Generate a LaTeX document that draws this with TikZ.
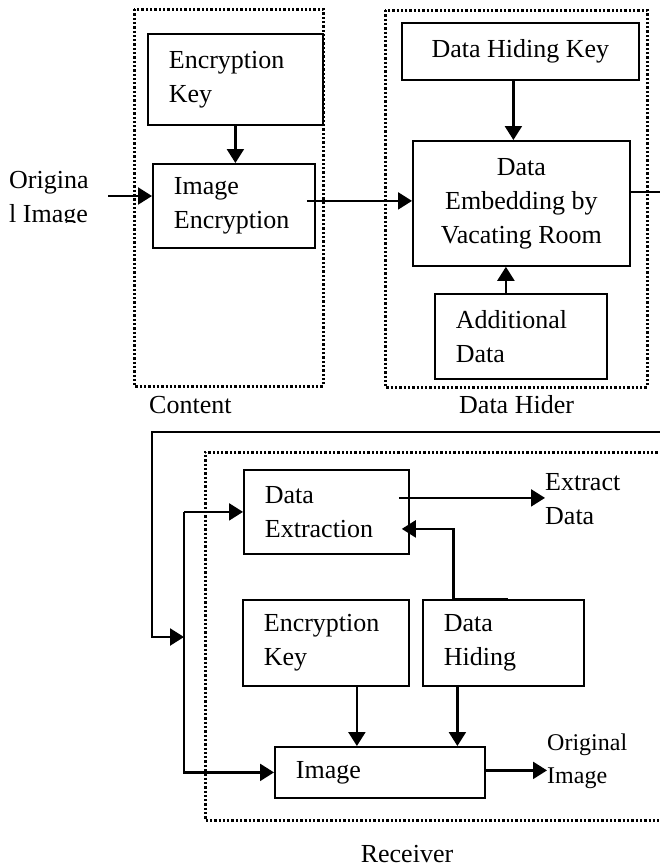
\documentclass[tikz,border=0pt]{standalone}
\usepackage{fontspec}
\setmainfont{Liberation Serif}
\usetikzlibrary{arrows.meta,calc}
\begin{document}
\begin{tikzpicture}[x=1pt,y=-1pt,
  every node/.style={font=\fontsize{26}{34}\selectfont},
  box/.style={draw, line width=1.8pt, anchor=north west, inner xsep=21pt, inner ysep=0pt, align=left},
  cbox/.style={draw, line width=1.8pt, anchor=north west, inner xsep=8pt, inner ysep=0pt, align=center},
  lbl/.style={inner sep=0pt, align=left},
  conn/.style={line width=2.3pt},
  arr/.style={conn, -{Triangle[length=14pt,width=17pt]}},
  grp/.style={line width=3pt, dash pattern=on 2.3pt off 2pt}]
\useasboundingbox (0,0) rectangle (660,868);
\fill[white] (0,0) rectangle (660,868);

% group outlines
\draw[grp] (134,9) rectangle (323,386);
\draw[grp] (385,10) rectangle (647,387);
\draw[grp] (662,452) -- (205,452) -- (205,820) -- (662,820);

% Content
\node[box, minimum width=175pt, minimum height=91pt, text width=133pt] (ck) at (147,33) {Encryption\\Key};
\node[box, minimum width=162pt, minimum height=84pt, text width=120pt] (ie) at (152,163) {Image\\Encryption};
\begin{scope}
\clip (0,160) rectangle (125,222);
\node[lbl, anchor=west] (oi) at (9,200) {Origina\\l Image};
\end{scope}
\coordinate (oic) at (108,196);

% Data hider
\node[cbox, minimum width=237pt, minimum height=57pt] (dhk) at (401,22) {Data Hiding Key};
\node[cbox, minimum width=217pt, minimum height=125pt] (de) at (412,140) {Data\\Embedding by\\Vacating Room};
\node[box, minimum width=172pt, minimum height=85pt, text width=130pt] (ad) at (434,293) {Additional\\Data};

\node[lbl, anchor=west] (lc) at (149,405) {Content};
\node[lbl, anchor=west] (lh) at (459,405) {Data Hider};

% Receiver
\node[box, minimum width=165pt, minimum height=84pt, text width=123pt] (dx) at (243,469) {Data\\Extraction};
\node[box, minimum width=166pt, minimum height=86pt, text width=124pt] (rk) at (242,599) {Encryption\\Key};
\node[box, minimum width=161pt, minimum height=86pt, text width=119pt] (rh) at (422,599) {Data\\Hiding};
\node[box, minimum width=210pt, minimum height=51pt, text width=168pt] (im) at (274,746) {Image};
\node[lbl, anchor=west] (ed) at (545,499) {Extract\\Data};
\node[lbl, anchor=west, font=\fontsize{24}{33}\selectfont] (oim) at (547,761) {Original\\Image};
\node[lbl] (lr) at (407,854) {Receiver};

% connectors, top
\draw[arr] (ck.south) -- (ck.south |- ie.north);
\draw[arr] (oic) -- (oic -| ie.west);
\coordinate (ieo) at ([xshift=-9pt,yshift=5pt]ie.east);
\draw[arr] (ieo) -- (ieo -| de.west);
\coordinate (dhko) at ([xshift=-7pt]dhk.south);
\draw[arr] (dhko) -- (dhko |- de.north);
\coordinate (ado) at ([xshift=-15pt]ad.north);
\draw[arr] (ado) -- (ado |- de.south);
\coordinate (r1) at (662,192);
\draw[conn] (r1 -| de.east) -- (r1);

% feedback
\coordinate (fb) at (662,432);
\coordinate (bus) at (184,637);
\draw[arr] (fb) -- (152,432) -- (152,637) -- (bus);
\draw[arr] (bus |- dx.west) -- (dx.west);
\draw[arr] (bus |- dx.west) -- (bus |- im.west) -- (im.west);

% receiver connectors
\coordinate (dxo) at ([xshift=-11pt,yshift=14pt]dx.east);
\draw[arr] (dxo) -- (dxo -| ed.west);
\coordinate (hk) at ([xshift=-50pt]rh.north);
\coordinate (dxi) at ([xshift=-8pt,yshift=-17pt]dx.east);
\draw[arr] ([xshift=5pt]rh.north) -- (hk) -- (hk |- dxi) -- (dxi);
\coordinate (rko) at ([xshift=31pt]rk.south);
\draw[arr] (rko) -- (rko |- im.north);
\coordinate (rho) at ([xshift=-46pt,yshift=2pt]rh.south);
\draw[arr] (rho) -- (rho |- im.north);
\coordinate (imo) at ([yshift=2pt]im.east);
\draw[arr] (imo) -- (imo -| oim.west);
\end{tikzpicture}
\end{document}
